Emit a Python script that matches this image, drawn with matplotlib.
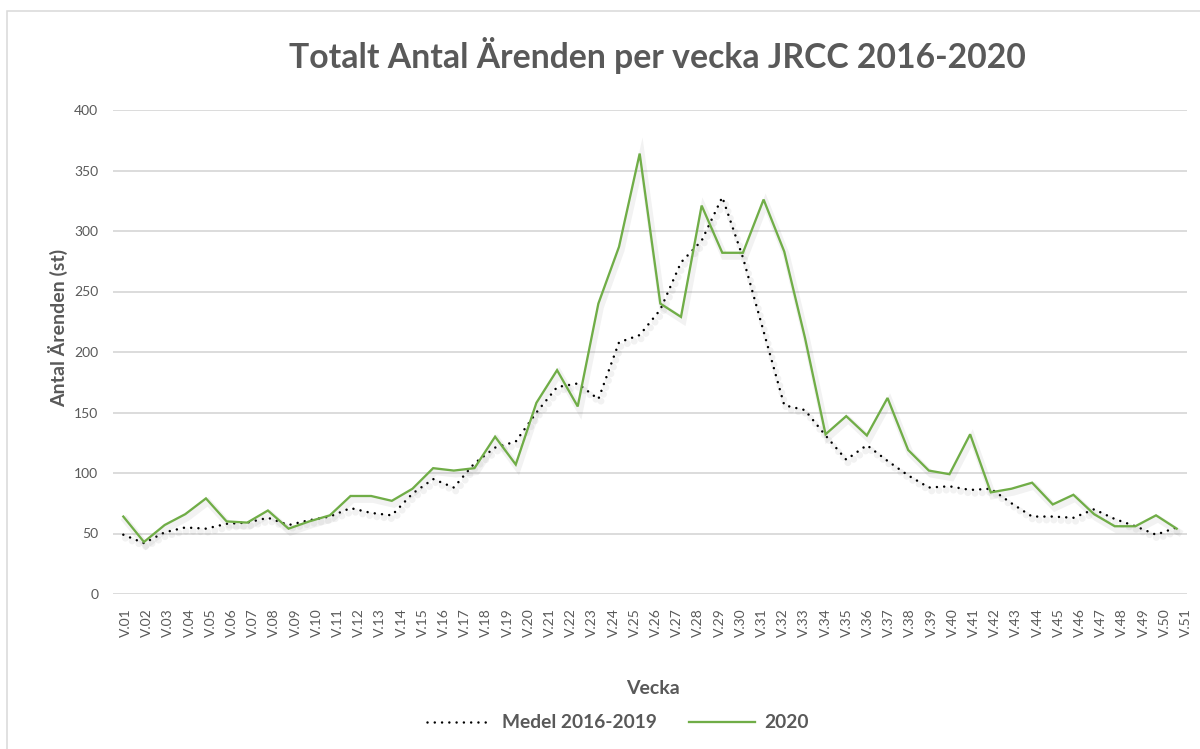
import matplotlib
matplotlib.use("Agg")
import matplotlib.pyplot as plt
import matplotlib.patheffects as pe
from matplotlib.lines import Line2D
from matplotlib.patches import Rectangle
import numpy as np

plt.rcParams['font.family'] = ['Lato', 'DejaVu Sans']

# ---- data ----
week_labels = ["V.01", "V.02", "V.03", "V.04", "V.05", "V.06", "V.07", "V.08", "V.09", "V.10",
               "V.11", "V.12", "V.13", "V.14", "V.15", "V.16", "V.17", "V.18", "V.19", "V.20",
               "V.21", "V.22", "V.23", "V.24", "V.25", "V.26", "V.27", "V.28", "V.29", "V.30",
               "V.31", "V.32", "V.33", "V.34", "V.35", "V.36", "V.37", "V.38", "V.39", "V.40",
               "V.41", "V.42", "V.43", "V.44", "V.45", "V.46", "V.47", "V.48", "V.49", "V.50",
               "V.51"]

medel_2016_2019 = [49, 42, 51, 55, 54, 58, 59, 63, 57, 61, 64, 71, 67, 65, 83, 95, 88, 108,
                   121, 126, 150, 171, 174, 161, 208, 214, 235, 274, 292, 328, 278, 217, 156,
                   152, 131, 111, 123, 110, 98, 88, 89, 86, 87, 75, 64, 64, 63, 70, 62, 56, 49, 55]

values_2020 = [64, 43, 57, 66, 79, 60, 59, 69, 54, 60, 65, 81, 81, 77, 87, 104, 102, 104,
               130, 107, 158, 185, 155, 240, 287, 364, 240, 229, 321, 282, 282, 326, 283,
               212, 132, 147, 131, 162, 119, 102, 99, 132, 84, 87, 92, 74, 82, 66, 56, 56, 65, 54]

series_names = ["Medel 2016-2019", "2020"]
title = "Totalt Antal Ärenden per vecka JRCC 2016-2020"
x_title = "Vecka"
y_title = "Antal Ärenden (st)"
y_ticks = [0, 50, 100, 150, 200, 250, 300, 350, 400]

# ---- styling ----
W, H = 1200, 749
TEXT = '#595959'
GRID = '#d9d9d9'
GREEN = '#70ad47'

fig = plt.figure(figsize=(W / 100, H / 100), dpi=100)
fig.patch.set_facecolor('white')

# outer chart border
fig.patches.append(Rectangle((6.5 / W, -0.05), 2.0, 1.05 - 11 / H,
                             transform=fig.transFigure, fill=False,
                             edgecolor=GRID, linewidth=1.1, clip_on=False))

left, right, top, bottom = 113 / W, 1187 / W, 110 / H, 594 / H
ax = fig.add_axes([left, 1 - bottom, right - left, bottom - top])

x = np.arange(len(values_2020))
shadow = [pe.SimpleLineShadow(offset=(1.5, -2.5), shadow_color='gray', alpha=0.10, linewidth=5),
          pe.Normal()]

ax.plot(x, medel_2016_2019, color='black', linewidth=1.8,
        linestyle=(0, (0.01, 2.9)), dash_capstyle='round', path_effects=shadow,
        label=series_names[0], zorder=3)
ax.plot(x, values_2020, color=GREEN, linewidth=1.65, solid_joinstyle='miter',
        path_effects=shadow, label=series_names[1], zorder=4)

ax.set_xlim(-0.5, len(values_2020) - 0.5)
ax.set_ylim(0, 400)
ax.set_yticks(y_ticks)
ax.set_yticklabels([str(v) for v in y_ticks])
ax.grid(axis='y', color=GRID, linewidth=1.3)
ax.set_axisbelow(True)

# tick labels spread evenly along the category axis
lab_pos = np.linspace(0.13, len(values_2020) - 0.55, len(week_labels))
ax.set_xticks(lab_pos)
ax.set_xticklabels(week_labels, rotation=90)

for s in ax.spines.values():
    s.set_visible(False)
ax.tick_params(axis='both', length=0, colors=TEXT, labelsize=10)
ax.tick_params(axis='x', pad=10)
ax.tick_params(axis='y', pad=10.5)

fig.text(657 / W, 1 - 55 / H, title, ha='center', va='center',
         fontsize=24.3, fontweight='bold', color=TEXT)
fig.text(653 / W, 1 - 688 / H, x_title, ha='center', va='center',
         fontsize=14, fontweight='bold', color=TEXT)
fig.text(58 / W, 1 - 328 / H, y_title, ha='center', va='center', rotation=90,
         fontsize=14, fontweight='bold', color=TEXT)

handles = [Line2D([], [], color='black', linewidth=1.8, linestyle=(0, (0.01, 2.9)),
                  dash_capstyle='round'),
           Line2D([], [], color=GREEN, linewidth=1.65)]
leg = fig.legend(handles, series_names, loc='center', bbox_to_anchor=(618 / W, 1 - 723 / H),
                 ncol=2, frameon=False, handlelength=3.4, handletextpad=0.5,
                 columnspacing=1.7, prop={'size': 13.8, 'weight': 'bold'})
for t in leg.get_texts():
    t.set_color(TEXT)

fig.savefig('out.png', dpi=100, facecolor='white')
